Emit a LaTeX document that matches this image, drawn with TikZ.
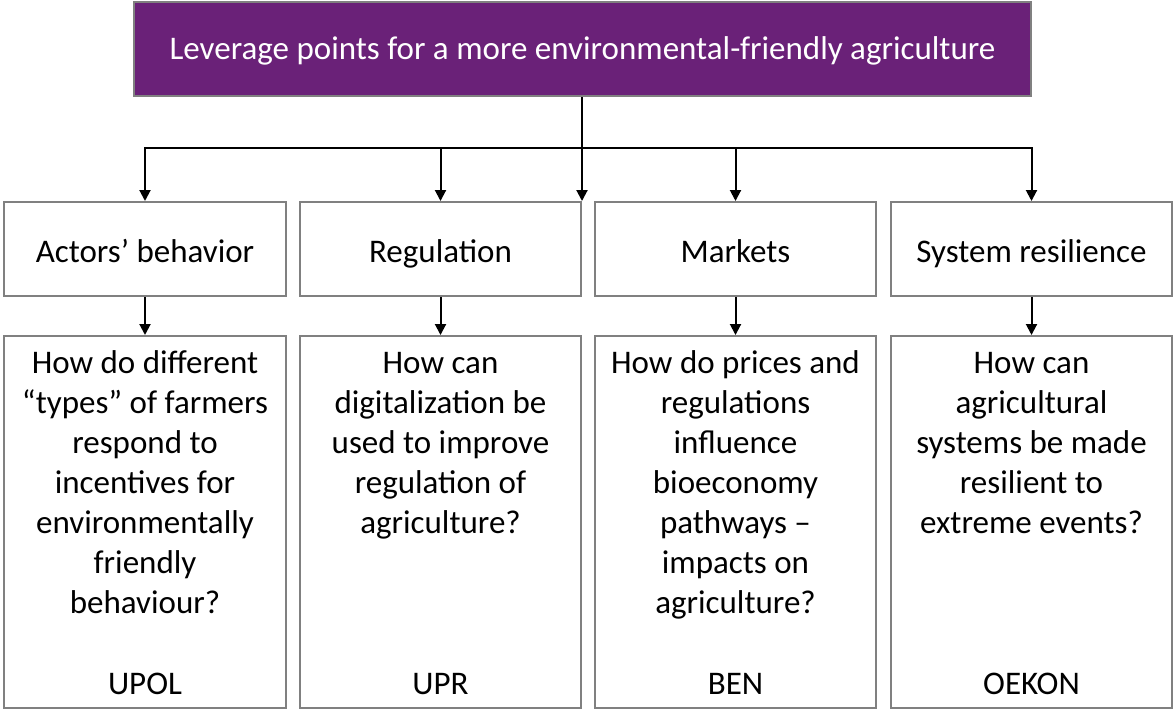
\documentclass[tikz,border=0pt]{standalone}
\usepackage{fontspec}
\setmainfont{Carlito}
\usetikzlibrary{arrows.meta,positioning}
\definecolor{leverpurple}{RGB}{106,33,120}
\definecolor{boxgray}{RGB}{128,128,128}
\newcommand{\firstline}{\rule{0pt}{24pt}}
\tikzset{
  x=1pt, y=-1pt,
  labelfont/.style={font=\fontsize{33}{40}\selectfont},
  topbox/.style={draw=boxgray,line width=2pt,fill=leverpurple,text=white,
    minimum width=897pt,minimum height=94pt,inner sep=0pt,
    text height=22pt,text depth=1pt,labelfont},
  leverbox/.style={draw=boxgray,line width=2pt,minimum width=281pt,
    minimum height=94pt,inner sep=0pt,text height=26pt,text depth=0pt,labelfont},
  questbox/.style={draw=boxgray,line width=2pt,minimum width=281pt,
    minimum height=372pt,inner sep=0pt},
  questtext/.style={align=center,inner sep=0pt,labelfont},
  link/.style={line width=2pt},
  arrowlink/.style={line width=2pt,-{Triangle[length=11pt,width=11pt]}}
}
\begin{document}
\begin{tikzpicture}
\useasboundingbox (0,0) rectangle (1174,724);
\node at (582.5,49)[topbox] (top) {Leverage points for a more environmental-friendly agriculture};
\node at (145,249)[leverbox,minimum width=282pt] (actors) {Actors’ behavior};
\node at (440.5,249)[leverbox] (regul) {Regulation};
\node at (735.5,249)[leverbox] (markets) {Markets};
\node at (1031.5,249)[leverbox] (resil) {System resilience};
\node at (145,522)[questbox,minimum width=282pt] (qactors) {};
\node at (440.5,522)[questbox] (qregul) {};
\node at (735.5,522)[questbox] (qmarkets) {};
\node at (1031.5,522)[questbox] (qresil) {};
\node[questtext,below=14pt of qactors.north] {\firstline How do different\\“types” of farmers\\respond to\\incentives for\\environmentally\\friendly\\behaviour?};
\node[questtext,below=14pt of qregul.north] {\firstline How can\\digitalization be\\used to improve\\regulation of\\agriculture?};
\node[questtext,below=14pt of qmarkets.north] {\firstline How do prices and\\regulations\\influence\\bioeconomy\\pathways –\\impacts on\\agriculture?};
\node[questtext,below=14pt of qresil.north] {\firstline How can\\agricultural\\systems be made\\resilient to\\extreme events?};
\node[questtext,above=14pt of qactors.south] {UPOL};
\node[questtext,above=14pt of qregul.south] {UPR};
\node[questtext,above=14pt of qmarkets.south] {BEN};
\node[questtext,above=14pt of qresil.south] {OEKON};
\draw[link] (top.south -| regul.north east) -- (regul.north east |- 0,148) coordinate (hub);
\draw[arrowlink] (hub) -| (actors.north);
\draw[arrowlink] (hub) -| (regul.north);
\draw[arrowlink] (hub) -- (regul.north east);
\draw[arrowlink] (hub) -| (markets.north);
\draw[arrowlink] (hub) -| (resil.north);
\draw[arrowlink] (actors) -- (qactors);
\draw[arrowlink] (regul) -- (qregul);
\draw[arrowlink] (markets) -- (qmarkets);
\draw[arrowlink] (resil) -- (qresil);
\end{tikzpicture}
\end{document}
